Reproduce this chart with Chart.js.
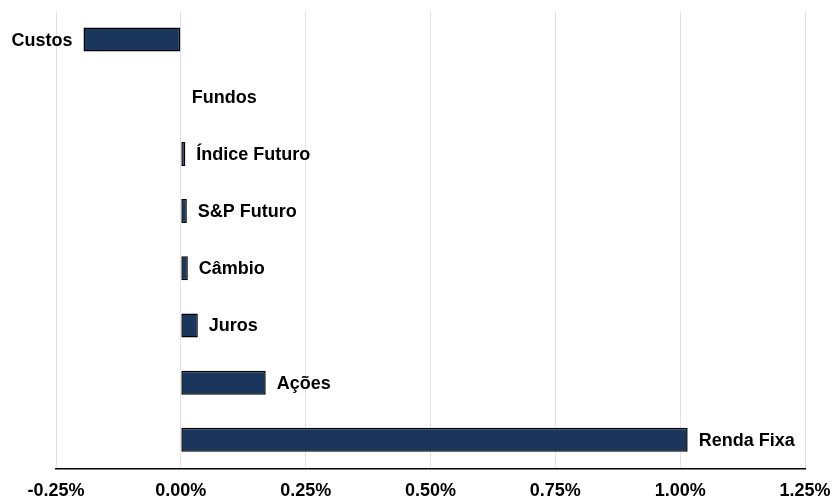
<!DOCTYPE html>
<html>
<head>
<meta charset="utf-8">
<script src="https://cdn.jsdelivr.net/npm/chart.js@4/dist/chart.umd.min.js"></script>
<style>
html,body{margin:0;padding:0;background:#fff;}
#wrap{width:832px;height:500px;}
</style>
</head>
<body>
<div id="wrap"><canvas id="c" width="832" height="500"></canvas></div>
<script>
const categories = ['Custos', 'Fundos', 'Índice Futuro', 'S&P Futuro', 'Câmbio', 'Juros', 'Ações', 'Renda Fixa'];
const contributions = [-0.195, 0.0, 0.009, 0.012, 0.014, 0.034, 0.17, 1.015];
const tickValues = [-0.25, 0, 0.25, 0.5, 0.75, 1.0, 1.25];

const FONT = "'Liberation Sans', Arial, sans-serif";

const barLabels = {
  id: 'barLabels',
  afterDatasetsDraw(chart) {
    const ctx = chart.ctx;
    const meta = chart.getDatasetMeta(0);
    ctx.save();
    ctx.font = "bold 18px " + FONT;
    ctx.fillStyle = '#000';
    ctx.textBaseline = 'middle';
    meta.data.forEach((el, i) => {
      const v = contributions[i];
      if (v < 0) {
        ctx.textAlign = 'right';
        ctx.fillText(categories[i], el.x - 11, el.y + 1);
      } else {
        ctx.textAlign = 'left';
        ctx.fillText(categories[i], el.x + 11, el.y + 1);
      }
    });
    ctx.restore();
  }
};

new Chart(document.getElementById('c'), {
  type: 'bar',
  data: {
    labels: categories,
    datasets: [{
      data: contributions,
      backgroundColor: '#1b365d',
      borderColor: '#000000',
      borderWidth: 1.5,
      borderSkipped: false,
      categoryPercentage: 1.0,
      barPercentage: 0.42
    }]
  },
  options: {
    indexAxis: 'y',
    responsive: false,
    animation: false,
    layout: { padding: { left: 56, right: 27, top: 11, bottom: -14 } },
    plugins: { legend: { display: false }, tooltip: { enabled: false } },
    scales: {
      y: { display: false },
      x: {
        min: -0.25,
        max: 1.25,
        afterBuildTicks(scale) { scale.ticks = tickValues.map(v => ({ value: v })); },
        afterFit(scale) { scale.paddingLeft = 0; scale.paddingRight = 0; },
        grid: { color: '#e3e3e3', lineWidth: 1, drawTicks: false },
        border: { display: true, color: '#000', width: 1.5 },
        ticks: {
          color: '#000',
          padding: 12,
          font: { family: FONT, size: 18, weight: 'bold' },
          callback: (v) => Number(v).toFixed(2) + '%'
        }
      }
    }
  },
  plugins: [barLabels]
});
</script>
</body>
</html>
